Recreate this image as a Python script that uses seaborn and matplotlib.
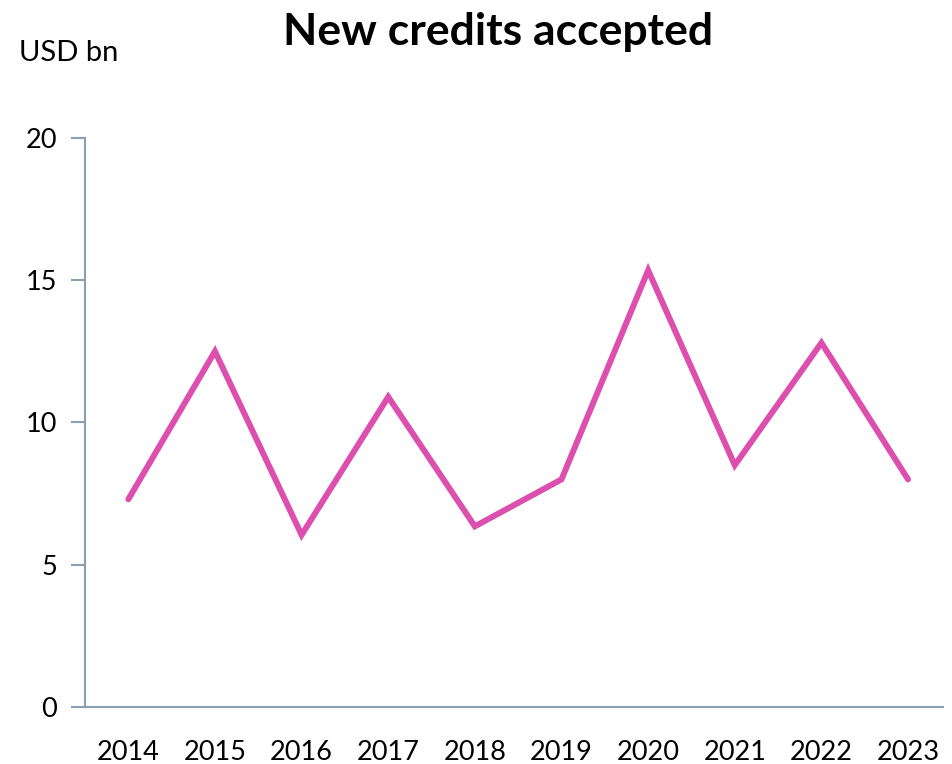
import numpy as np
import pandas as pd
import matplotlib
matplotlib.use("Agg")
import matplotlib.pyplot as plt
import seaborn as sns

years = ["2014", "2015", "2016", "2017", "2018", "2019", "2020", "2021", "2022", "2023"]
credits = [7.3, 12.5, 6.05, 10.9, 6.35, 8.0, 15.35, 8.5, 12.8, 8.0]

df = pd.DataFrame({"year": years, "credits": credits})

sns.set_style("white")
plt.rcParams["font.family"] = ["Lato", "DejaVu Sans"]
plt.rcParams["text.color"] = "black"
plt.rcParams["xtick.color"] = "black"
plt.rcParams["ytick.color"] = "black"

axis_col = "#8d9db1"
fig = plt.figure(figsize=(9.53, 7.64), dpi=100)
ax = fig.add_axes([0.0892, 0.0746, 0.9, 0.7448])

sns.lineplot(data=df, x="year", y="credits", ax=ax, color="#dd4fae", linewidth=4.3,
             solid_joinstyle="miter", sort=False)

ax.set_ylim(0, 20)
ax.set_xlim(-0.5, 9.4)
ax.set_yticks([0, 5, 10, 15, 20])
ax.set_xlabel("")
ax.set_ylabel("")
for s in ["top", "right"]:
    ax.spines[s].set_visible(False)
for s in ["left", "bottom"]:
    ax.spines[s].set_color(axis_col)
    ax.spines[s].set_linewidth(1.5)
ax.tick_params(axis="y", left=True, length=10, width=1.5, color=axis_col,
               labelcolor="black", labelsize=19.5, pad=10)
ax.tick_params(axis="x", bottom=False, labelcolor="black", labelsize=19.5, pad=20)

fig.text(0.523, 0.958, "New credits accepted", ha="center", va="center",
         fontsize=32, fontweight="bold", color="black")
fig.text(0.02, 0.930, "USD bn", ha="left", va="center", fontsize=21, color="black")

fig.savefig("out.png", dpi=100)
